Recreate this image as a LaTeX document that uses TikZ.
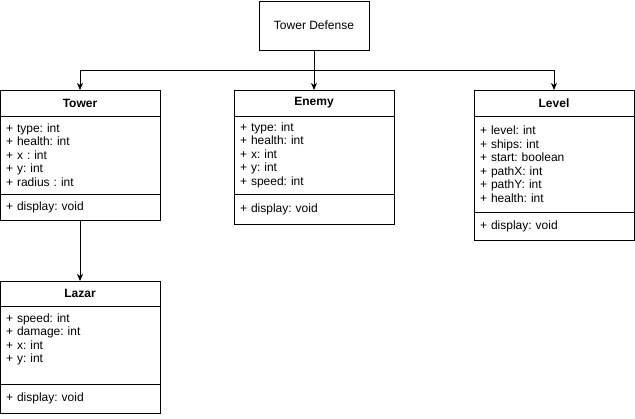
\documentclass[tikz,border=0pt]{standalone}
\usepackage{fontspec}
\setmainfont{Liberation Sans}
\usetikzlibrary{positioning}
\usetikzlibrary{arrows.meta}
\frenchspacing

\begin{document}
\begin{tikzpicture}[x=1pt, y=-1pt,
                line width=1pt,
                txt/.style={font=\fontsize{12}{13.5}\selectfont},
                box/.style={draw, rectangle, outer sep=0pt, inner sep=0pt, txt},
                hdr/.style={box, anchor=north, minimum width=160pt,
                    minimum height=#1, font=\fontsize{12}{13.5}\selectfont\bfseries},
                sec/.style={box, anchor=north, minimum width=160pt,
                    minimum height=#1, text width=148pt, inner xsep=6pt, align=left},
                arr/.style={-{Stealth[length=7pt, width=6pt, inset=2pt]}}]
                \useasboundingbox (0,0) rectangle (635,418);
                % root
                \node[box, anchor=north, minimum width=110pt, minimum height=49pt] (td) at (314,1) {Tower Defense};
                % classes
                \node[hdr=26pt] (tower) at (80,90) {Tower};
                \node[sec=78pt, below=0pt of tower] (towerAttr) {+ type: int\\+ health: int\\+ x : int\\+ y: int\\+ radius : int};
                \node[sec=26pt, below=0pt of towerAttr] (towerMeth) {+ display: void};

                \node[hdr=26pt] (enemy) at (314,90) {Enemy};
                \node[sec=78pt, below=0pt of enemy] (enemyAttr) {+ type: int\\+ health: int\\+ x: int\\+ y: int\\+ speed: int};
                \node[sec=30pt, below=0pt of enemyAttr] (enemyMeth) {+ display: void};

                \node[hdr=26pt] (level) at (554,90) {Level};
                \node[sec=96pt, below=0pt of level] (levelAttr) {+ level: int\\+ ships: int\\+ start: boolean\\+ pathX: int\\+ pathY: int\\+ health: int};
                \node[sec=28pt, below=0pt of levelAttr] (levelMeth) {+ display: void};

                \node[hdr=25pt] (lazar) at (80,281) {Lazar};
                \node[sec=78pt, below=0pt of lazar] (lazarAttr) {+ speed: int\\+ damage: int\\+ x: int\\+ y: int\\\mbox{}};
                \node[sec=29pt, below=0pt of lazarAttr] (lazarMeth) {+ display: void};

                % connectors
                \coordinate (split) at (314,70);
                \draw[arr] (td) -- (enemy);
                \draw[arr] (split) -| (tower.north);
                \draw[arr] (split) -| (level.north);
                \draw[arr] (towerMeth) -- (lazar);
            \end{tikzpicture}
\end{document}
